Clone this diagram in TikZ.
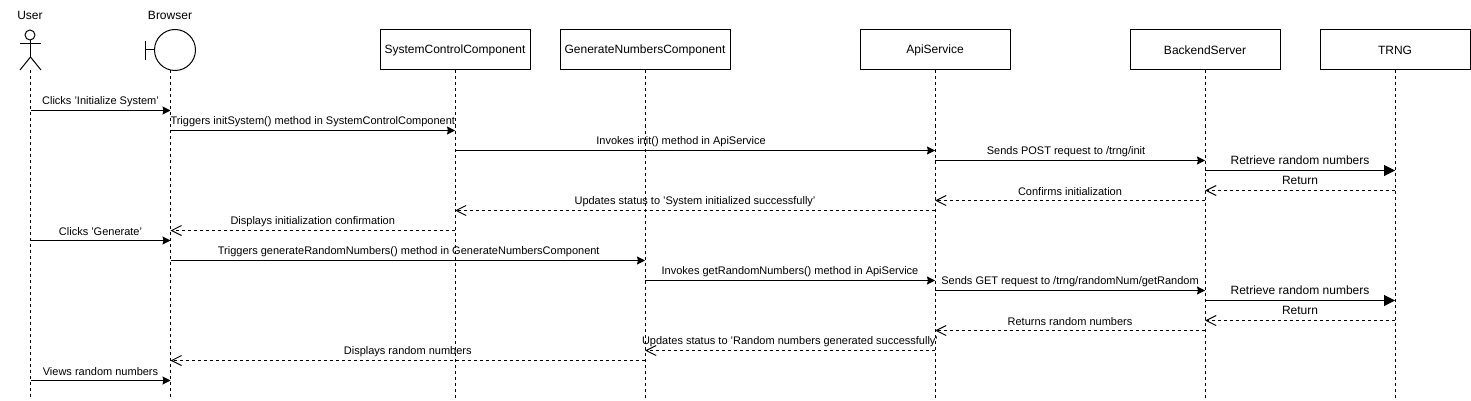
\documentclass[tikz,border=0pt]{standalone}
\usepackage{fontspec}
\setmainfont{Liberation Sans}
\usetikzlibrary{arrows.meta}
\tikzset{
  headbox/.style={draw,minimum width=150pt,minimum height=40pt,inner sep=0pt,font=\fontsize{12}{14}\selectfont},
  headtext/.style={font=\fontsize{12}{14}\selectfont},
  lifeline/.style={dash pattern=on 3pt off 3pt},
  call/.style={-{Stealth[length=8pt,width=8pt,inset=1pt]}},
  bigcall/.style={-{Triangle[length=11pt,width=11pt]}},
  reply/.style={dash pattern=on 3pt off 3pt,-{Straight Barb[length=10pt,width=10pt]}},
  msg/.style={midway,yshift=9pt,inner sep=0pt,font=\fontsize{11}{13}\selectfont},
  bigmsg/.style={midway,yshift=10pt,inner sep=0pt,font=\fontsize{12}{14}\selectfont}
}
\begin{document}
\begin{tikzpicture}[x=1pt,y=-1pt,line width=1pt]
  \useasboundingbox (0,0) rectangle (1471,401);
  % heads
  \node[headtext] (usertext) at (30,15) {User};
  \node[headtext] (browsertext) at (170,15) {Browser};
  \draw (30,35) circle (5);
  \draw (20,44) -- (41,44);
  \draw (30.5,40) -- (30.5,57);
  \draw (20,70) -- (30.5,57) -- (41,70);
  \node[draw,circle,minimum size=41pt,inner sep=0pt] (browserhead) at (175,50) {};
  \draw (145.5,41) -- (145.5,60);
  \draw (145.5,50) -- (browserhead.west);
  \node[headbox] (system) at (455,50) {SystemControlComponent};
  \node[headbox,minimum width=170pt] (generate) at (645,50) {GenerateNumbersComponent};
  \node[headbox] (api) at (935,50) {ApiService};
  \node[headbox] (backend) at (1205,50) {BackendServer};
  \node[headbox] (trng) at (1395,50) {TRNG};
  % lifelines
  \coordinate (user) at (30.5,70);
  \coordinate (browser) at (170.5,70);
  \coordinate (bottom) at (0,398);
  \draw[lifeline] (user) -- (user |- bottom);
  \draw[lifeline] (browser) -- (browser |- bottom);
  \draw[lifeline] (system.south) -- (system |- bottom);
  \draw[lifeline] (generate.south) -- (generate |- bottom);
  \draw[lifeline] (api.south) -- (api |- bottom);
  \draw[lifeline] (backend.south) -- (backend |- bottom);
  \draw[lifeline] (trng.south) -- (trng |- bottom);
  % rows
  \coordinate (r1) at (0,110.5);
  \coordinate (r2) at (0,130.5);
  \coordinate (r3) at (0,150.5);
  \coordinate (r4) at (0,160.5);
  \coordinate (r5) at (0,170.5);
  \coordinate (r6) at (0,190.5);
  \coordinate (r7) at (0,200.5);
  \coordinate (r8) at (0,210.5);
  \coordinate (r9) at (0,230.5);
  \coordinate (r10) at (0,240.5);
  \coordinate (r11) at (0,260.5);
  \coordinate (r12) at (0,280.5);
  \coordinate (r13) at (0,290.5);
  \coordinate (r14) at (0,300.5);
  \coordinate (r15) at (0,320.5);
  \coordinate (r16) at (0,330.5);
  \coordinate (r17) at (0,350.5);
  \coordinate (r18) at (0,360.5);
  \coordinate (r19) at (0,380.5);
  % initialisation
  \draw[call] (user |- r1) -- node[msg] {Clicks 'Initialize System'} (browser |- r1);
  \draw[call] (browser |- r2) -- node[msg] {Triggers initSystem() method in SystemControlComponent} (system |- r2);
  \draw[call] (system |- r3) -- node[msg,xshift=-14pt] {Invokes init() method in ApiService} (api |- r3);
  \draw[call] (api |- r4) -- node[msg,xshift=-4pt] {Sends POST request to /trng/init} (backend |- r4);
  \draw[bigcall] (backend |- r5) -- node[bigmsg] {Retrieve random numbers} (trng |- r5);
  \draw[reply] (trng |- r6) -- node[bigmsg] {Return} (backend |- r6);
  \draw[reply] (backend |- r7) -- node[msg] {Confirms initialization} (api |- r7);
  \draw[reply] (api |- r8) -- node[msg] {Updates status to 'System initialized successfully'} (system |- r8);
  \draw[reply] (system |- r9) -- node[msg] {Displays initialization confirmation} (browser |- r9);
  % generation
  \draw[call] (user |- r10) -- node[msg] {Clicks 'Generate'} (browser |- r10);
  \draw[call] (browser |- r11) -- node[msg,xshift=1pt] {Triggers generateRandomNumbers() method in GenerateNumbersComponent} (generate |- r11);
  \draw[call] (generate |- r12) -- node[msg] {Invokes getRandomNumbers() method in ApiService} (api |- r12);
  \draw[call] (api |- r13) -- node[msg] {Sends GET request to /trng/randomNum/getRandom} (backend |- r13);
  \draw[bigcall] (backend |- r14) -- node[bigmsg] {Retrieve random numbers} (trng |- r14);
  \draw[reply] (trng |- r15) -- node[bigmsg] {Return} (backend |- r15);
  \draw[reply] (backend |- r16) -- node[msg] {Returns random numbers} (api |- r16);
  \draw[reply] (api |- r17) -- node[msg] {Updates status to 'Random numbers generated successfully'} (generate |- r17);
  \draw[reply] (generate |- r18) -- node[msg] {Displays random numbers} (browser |- r18);
  \draw[call] (user |- r19) -- node[msg] {Views random numbers} (browser |- r19);
\end{tikzpicture}
\end{document}
